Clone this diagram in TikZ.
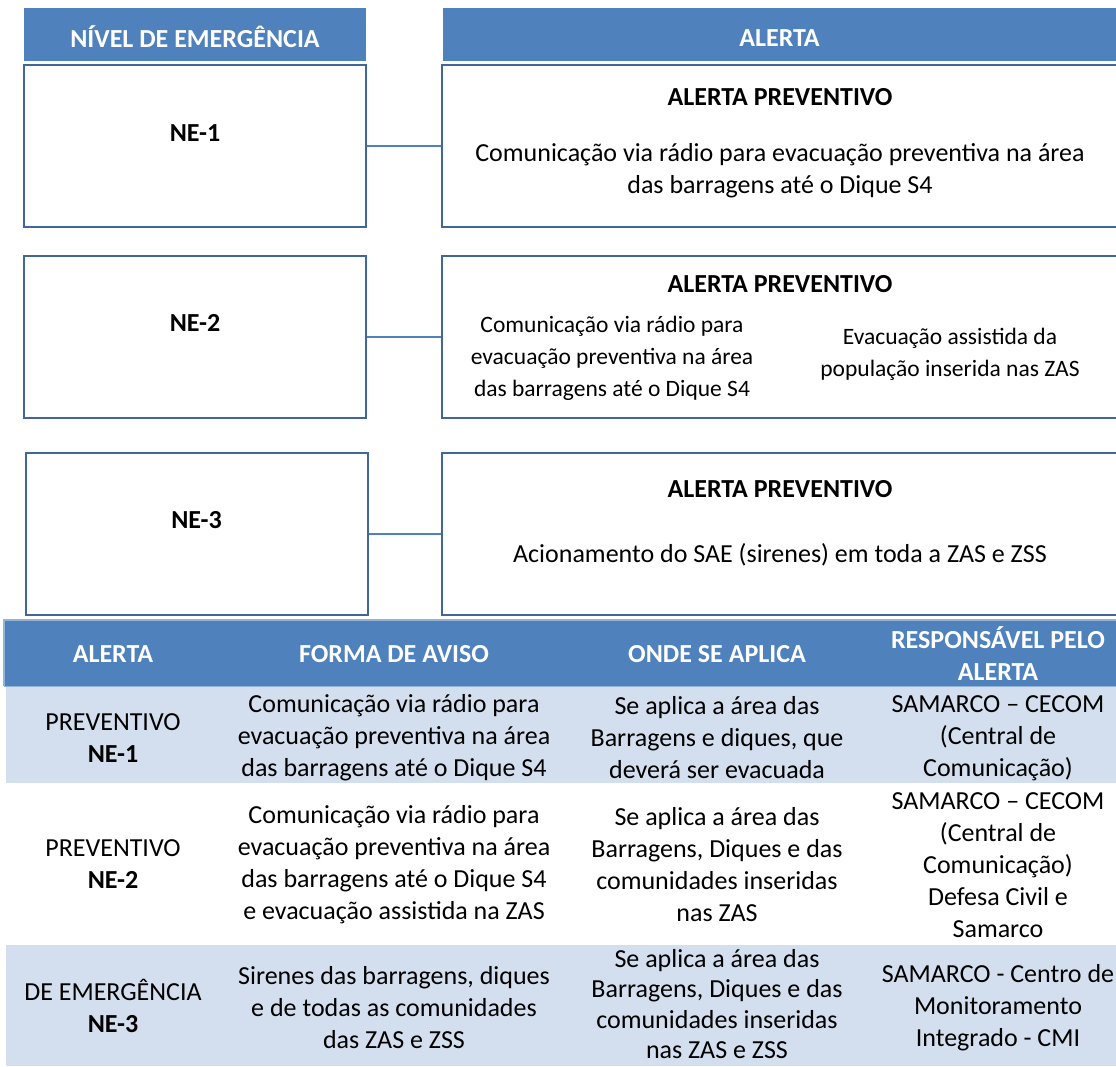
\documentclass[tikz,border=0pt]{standalone}
\usepackage{fontspec}
\setmainfont{Carlito}
\usetikzlibrary{positioning}
\definecolor{hdblue}{HTML}{4F81BD}
\definecolor{rowblue}{HTML}{D3DFEE}
\definecolor{boxline}{HTML}{41679A}
\definecolor{bandline}{HTML}{95B3D7}
\newcommand{\bodyfont}{\fontsize{26}{32}\selectfont}
\newcommand{\smallbody}{\fontsize{23.5}{32}\selectfont}

\begin{document}
\begin{tikzpicture}[x=1pt, y=-1pt, line join=miter,
    headbar/.style={fill=hdblue, minimum height=53pt, inner sep=0pt},
    nebox/.style={draw=boxline, line width=2pt, minimum width=342pt,
      minimum height=162pt, inner sep=0pt},
    alertbox/.style={draw=boxline, line width=2pt, minimum width=677pt,
      minimum height=162pt, inner sep=0pt},
    link/.style={draw=hdblue, line width=2pt},
    txt/.style={font=\bodyfont, align=center, inner sep=0pt},
    smalltxt/.style={font=\smallbody, align=center, inner sep=0pt},
    bold/.style={font=\bfseries\bodyfont, align=center, inner sep=0pt},
    thead/.style={font=\bfseries\bodyfont, text=white, align=center, inner sep=0pt}]
  \useasboundingbox (0,0) rectangle (1116,1066);
  \clip (0,0) rectangle (1116,1066);

  % column headers
  \node[headbar, minimum width=342pt] (hdnivel) at (195,34.5) {};
  \node[headbar, minimum width=673pt] (hdalerta) at (779.5,34.5) {};
  \node[thead] (hdnivelt) at (195,37) {NÍVEL DE EMERGÊNCIA};
  \node[thead] (hdalertat) at (779.5,38) {ALERTA};

  % emergency levels
  \node[nebox] (ne1) at (195,146) {};
  \node[nebox] (ne2) at (195,336.5) {};
  \node[nebox] (ne3) at (196.5,533.5) {};
  \node[bold] (ne1t) at (195,133) {NE-1};
  \node[bold] (ne2t) at (195,323) {NE-2};
  \node[bold] (ne3t) at (196.5,520) {NE-3};

  % alerts
  \node[alertbox] (al1) at (780.5,146) {};
  \node[alertbox] (al2) at (780.5,336.5) {};
  \node[alertbox] (al3) at (780.5,533.5) {};

  \node[bold] (al1t) at (780,97) {ALERTA PREVENTIVO};
  \node[txt] (al1d) at (780,171) {Comunicação via rádio para evacuação preventiva na área\\das barragens até o Dique S4};

  \node[bold] (al2t) at (780,284) {ALERTA PREVENTIVO};
  \node[smalltxt] (al2a) at (612,358) {Comunicação via rádio para\\evacuação preventiva na área\\das barragens até o Dique S4};
  \node[smalltxt] (al2b) at (950,354) {Evacuação assistida da\\população inserida nas ZAS};

  \node[bold] (al3t) at (780,489) {ALERTA PREVENTIVO};
  \node[txt] (al3d) at (780,555) {Acionamento do SAE (sirenes) em toda a ZAS e ZSS};

  \draw[link] (ne1.east) -- (al1.west);
  \draw[link] (ne2.east) -- (al2.west);
  \draw[link] (ne3.east) -- (al3.west);

  % table
  \fill[hdblue] (4,620) rectangle (1120,686);
  \draw[bandline, line width=1.5pt] (4,686) -- (4,620) -- (1120,620);
  \draw[bandline, line width=1pt] (4,686) -- (1120,686);
  \fill[rowblue] (6,687) rectangle (1120,783);
  \fill[rowblue] (6,945) rectangle (1120,1066);

  \node[thead] (th1) at (113,654) {ALERTA};
  \node[thead] (th2) at (394,654) {FORMA DE AVISO};
  \node[thead] (th3) at (717,654) {ONDE SE APLICA};
  \node[thead] (th4) at (998,654) {RESPONSÁVEL PELO\\ALERTA};

  \node[txt] (r1c1) at (113,738) {PREVENTIVO\\\textbf{NE-1}};
  \node[txt] (r1c2) at (394,738) {Comunicação via rádio para\\evacuação preventiva na área\\das barragens até o Dique S4};
  \node[txt] (r1c3) at (717,738) {Se aplica a área das\\Barragens e diques, que\\deverá ser evacuada};
  \node[txt] (r1c4) at (998,738) {SAMARCO – CECOM\\(Central de\\Comunicação)};

  \node[txt] (r2c1) at (113,864) {PREVENTIVO\\\textbf{NE-2}};
  \node[txt] (r2c2) at (394,865) {Comunicação via rádio para\\evacuação preventiva na área\\das barragens até o Dique S4\\e evacuação assistida na ZAS};
  \node[txt] (r2c3) at (717,865) {Se aplica a área das\\Barragens, Diques e das\\comunidades inseridas\\nas ZAS};
  \node[txt] (r2c4) at (998,865) {SAMARCO – CECOM\\(Central de\\Comunicação)\\Defesa Civil e\\Samarco};

  \node[txt] (r3c1) at (113,1006) {DE EMERGÊNCIA\\\textbf{NE-3}};
  \node[txt] (r3c2) at (394,1008) {Sirenes das barragens, diques\\e de todas as comunidades\\das ZAS e ZSS};
  \node[txt, font=\fontsize{26}{30.5}\selectfont] (r3c3) at (717,1004) {Se aplica a área das\\Barragens, Diques e das\\comunidades inseridas\\nas ZAS e ZSS};
  \node[txt] (r3c4) at (998,1008) {SAMARCO - Centro de\\Monitoramento\\Integrado - CMI};
\end{tikzpicture}
\end{document}
